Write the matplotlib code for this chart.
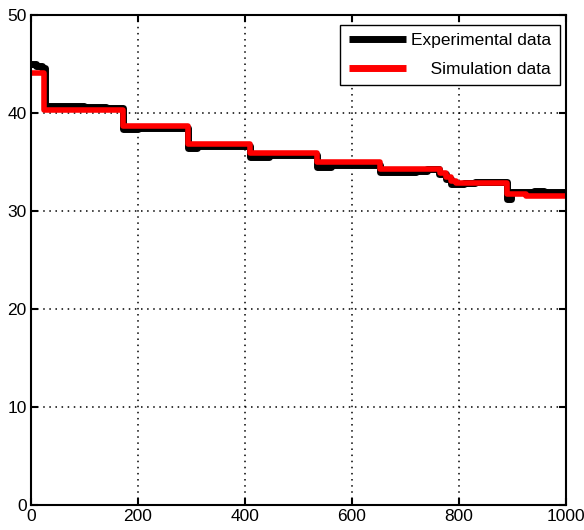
import matplotlib
matplotlib.use("Agg")
import matplotlib.pyplot as plt

plt.rcParams['font.family'] = ['Liberation Sans', 'DejaVu Sans']

# Experimental data (step changes): time and value
exp_t = [0, 10, 20, 27, 100, 140, 172, 200, 293, 310, 409, 445, 535, 560,
         652, 720, 740, 762, 775, 785, 810, 830, 889, 897, 940, 960, 1000]
exp_y = [45.0, 44.8, 44.6, 40.7, 40.6, 40.5, 38.4, 38.5, 36.4, 36.6, 35.5, 35.7,
         34.5, 34.7, 34.0, 34.1, 34.3, 33.8, 33.3, 32.7, 32.9, 33.0, 31.2, 31.9,
         32.0, 31.9, 31.9]

# Simulation data
sim_t = [0, 25, 172, 293, 409, 535, 652, 765, 775, 785, 795, 889, 925, 1000]
sim_y = [44.1, 40.3, 38.7, 36.8, 35.9, 35.0, 34.3, 33.9, 33.5, 33.1, 32.9,
         31.7, 31.5, 31.5]

x_ticks = [0, 200, 400, 600, 800, 1000]
y_ticks = [0, 10, 20, 30, 40, 50]

fig = plt.figure(figsize=(5.84, 5.30), dpi=100)
ax = fig.add_axes([0.053, 0.047, 0.916, 0.925])

ax.plot(exp_t, exp_y, drawstyle='steps-post', color='black', lw=5.0,
        label='Experimental data', solid_capstyle='butt')
ax.plot(sim_t, sim_y, drawstyle='steps-post', color='#ff0000', lw=4.0,
        label='    Simulation data', solid_capstyle='butt')

ax.set_xlim(0, 1000)
ax.set_ylim(0, 50)
ax.set_xticks(x_ticks)
ax.set_yticks(y_ticks)
ax.grid(True, color='black', linestyle=(0, (1, 3)), linewidth=1.1)
ax.tick_params(direction='in', length=5, width=1.5, top=True, right=True,
               labelsize=12.5, pad=3)
for s in ax.spines.values():
    s.set_linewidth(1.5)

leg = ax.legend(loc='upper right', fontsize=12.5, handlelength=3.3,
                handletextpad=0.3, fancybox=False, framealpha=1,
                edgecolor='black', borderpad=0.5, labelspacing=0.75,
                borderaxespad=0, bbox_to_anchor=(0.989, 0.98))
leg.get_frame().set_linewidth(1.0)
for l in leg.get_lines():
    l.set_linewidth(5.0)

fig.savefig('out.png', dpi=100)
